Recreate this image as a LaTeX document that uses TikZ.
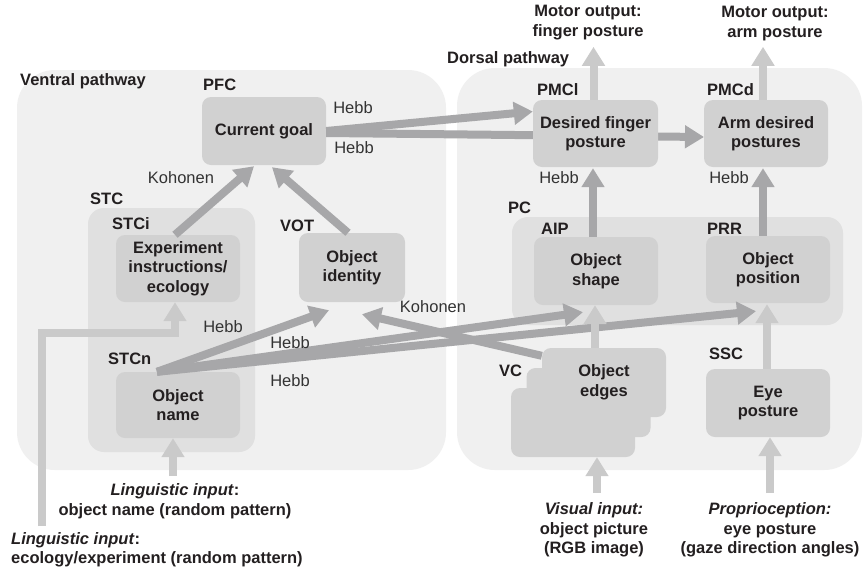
\documentclass[tikz,border=0pt]{standalone}
\usepackage{fontspec}
\setmainfont{Liberation Sans}
\usetikzlibrary{arrows.meta,calc}
\definecolor{bgA}{HTML}{F0F0F0}
\definecolor{bgB}{HTML}{E0E0E0}
\definecolor{boxC}{HTML}{D1D1D1}
\definecolor{arrD}{HTML}{A7A7A9}
\definecolor{arrL}{HTML}{CACACA}
\definecolor{txt}{HTML}{231F20}
\definecolor{txtL}{HTML}{333333}
\newcommand\myfs{\fontsize{16.5}{19.5}\selectfont}
\tikzset{
  module/.style={fill=boxC, rounded corners=9pt, minimum width=124pt, minimum height=68pt,
    align=center, font=\myfs\bfseries, text=txt, inner sep=0pt},
  area/.style={font=\myfs\bfseries, text=txt, anchor=base west, inner sep=0pt},
  learn/.style={font=\myfs, text=txtL, inner sep=0pt},
  inputtxt/.style={font=\myfs\bfseries, text=txt, align=center, inner sep=0pt},
  darr/.style={draw=arrD, line width=8pt, -{Triangle[width=22pt,length=19pt]}},
  larr/.style={draw=arrL, line width=8pt, -{Triangle[width=22pt,length=19pt]}},
}
\begin{document}
\begin{tikzpicture}[x=1pt,y=-1pt,font=\myfs]
\useasboundingbox (0,0) rectangle (865,571);
\fill[white] (0,0) rectangle (865,571);
% regions
\fill[bgA, rounded corners=38pt] (17,70) rectangle (446,470);
\fill[bgA, rounded corners=38pt] (457,68) rectangle (862,470);
\fill[bgB, rounded corners=16pt] (88,208) rectangle (255,452);
\fill[bgB, rounded corners=16pt] (512,217) rectangle (843,325);
% modules
\node[module] (cg) at (264,131) {Current goal};
\node[module, minimum height=67pt] (exp) at (178,268.5) {Experiment\\instructions/\\ecology};
\node[module, minimum height=66pt] (on) at (178,405) {Object\\name};
\node[module, minimum width=106pt, minimum height=69pt] (oi) at (352,267.5) {Object\\identity};
\node[module, minimum height=69pt] (oe3) at (573,422.5) {};
\node[module, minimum height=69pt] (oe2) at (588.5,402.5) {};
% arrow passing behind the finger-posture box
\coordinate (adw) at (704,137);
\draw[darr] ($(cg.east)+(0,2)$) -- (adw);
\node[module, minimum width=125pt, minimum height=67pt] (df) at (595.5,133.5) {Desired finger\\posture};
\node[module, minimum height=67pt] (ad) at (766,133.5) {Arm desired\\postures};
\node[module] (os) at (596,271) {Object\\shape};
\node[module, minimum height=67pt] (op) at (768,269.5) {Object\\position};
\node[module] (ep) at (768,403) {Eye\\posture};
\node[module, minimum height=69pt] (oe) at (604,382.5) {Object\\edges};
% dark arrows
\coordinate (onx) at ($(on.north)+(-21,0)$);
\draw[darr] ($(exp.north)+(-3,0)$) -- ($(cg.south)+(-10,1)$);
\draw[darr] ($(oi.north)+(-4,0)$) -- ($(cg.south)+(8,2)$);
\draw[darr] (cg.east) -- ($(df.west)+(0,-22)$);
\draw[darr] ($(os.north)+(-3,0)$) -- ($(df.south)+(-2.5,1)$);
\draw[darr] ($(op.north)+(-5,0)$) -- ($(ad.south)+(-3,1)$);
\draw[darr] ($(oe.north west)+(0,8)$) -- ($(oi.south)+(10,12)$);
\draw[darr] (onx) -- ($(oi.south)+(-23,8)$);
\draw[darr] (onx) -- ($(os.south)+(-13,7)$);
\draw[darr] (onx) -- ($(op.south)+(-12,8)$);
% light arrows
\draw[larr] ($(oe.north)+(-9,0)$) -- ($(os.south)+(-1,0)$);
\draw[larr] ($(ep.north)+(-1,0)$) -- ($(op.south)+(-1,1)$);
% texts outside
\node[inputtxt] (mot1) at (588,22.5) {Motor output:\\finger posture};
\node[inputtxt] (mot2) at (775,23.5) {Motor output:\\arm posture};
\draw[larr] ($(df.north)+(-2,0)$) -- ($(df.north)+(-2,-53)$);
\draw[larr] ($(ad.north)+(-3,0)$) -- ($(ad.north)+(-3,-53)$);
\node[inputtxt] (lin1) at (175,501) {\textit{Linguistic input}:\\object name (random pattern)};
\node[inputtxt, align=left, anchor=west] (lin2) at (11,550) {\textit{Linguistic input}:\\ecology/experiment (random pattern)};
\node[inputtxt] (vis) at (594,530) {\textit{Visual input:}\\object picture\\(RGB image)};
\node[inputtxt] (prop) at (770,530) {\textit{Proprioception:}\\eye posture\\(gaze direction angles)};
\coordinate (lin1a) at (173,476);
\coordinate (lin2a) at (42,526);
\coordinate (lin2b) at (42,333);
\coordinate (lin2c) at (175,333);
\coordinate (visa) at (597,493);
\coordinate (propa) at (770,493);
\draw[larr] (lin1a) -- (lin1a |- on.south);
\draw[larr, line join=miter] (lin2a) -- (lin2b) -- (lin2c) -- ($(exp.south)+(-3,0)$);
\draw[larr] (visa) -- (visa |- oe3.south);
\draw[larr] (propa) -- (propa |- ep.south);
% area labels
\node[area] (lv) at (20,85) {Ventral pathway};
\node[area] (ld) at (447,63) {Dorsal pathway};
\node[area] (lpfc) at (203,90) {PFC};
\node[area] (lstc) at (90,204) {STC};
\node[area] (lstci) at (112,229) {STCi};
\node[area] (lstcn) at (108,364) {STCn};
\node[area] (lvot) at (280,231) {VOT};
\node[area] (lpmcl) at (537,95) {PMCl};
\node[area] (lpmcd) at (707,95) {PMCd};
\node[area] (lpc) at (508,213) {PC};
\node[area] (laip) at (541,234) {AIP};
\node[area] (lprr) at (707,234) {PRR};
\node[area] (lssc) at (709,359) {SSC};
\node[area] (lvc) at (499,376) {VC};
% learning rule labels
\node[learn] (k1) at (181,178) {Kohonen};
\node[learn] (h1) at (353,108) {Hebb};
\node[learn] (h2) at (354,148) {Hebb};
\node[learn] (h3) at (223,327) {Hebb};
\node[learn] (h4) at (290,343) {Hebb};
\node[learn] (h5) at (290,381) {Hebb};
\node[learn] (k2) at (433,307) {Kohonen};
\node[learn] (h6) at (559,178) {Hebb};
\node[learn] (h7) at (729,178) {Hebb};
\end{tikzpicture}
\end{document}
